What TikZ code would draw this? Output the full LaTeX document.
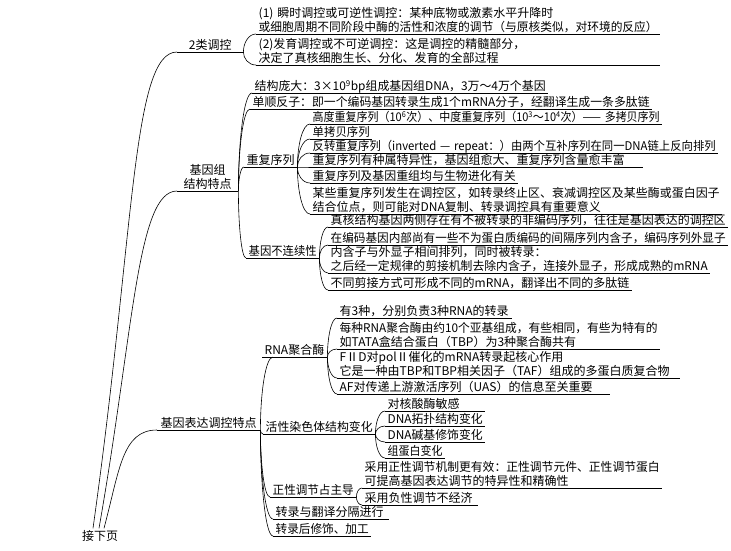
\documentclass[tikz,border=0pt]{standalone}
\usepackage{fontspec}
\usepackage{graphicx}
\setmainfont{Noto Sans CJK SC}
\usetikzlibrary{calc}
\newsavebox\fitbox
\newcommand\fl[1]{\sbox\fitbox{#1}\ht\fitbox=9.5pt\dp\fitbox=1.5pt\relax
  \ifdim\wd\fitbox>\hsize\relax\resizebox{\hsize}{\height}{\usebox\fitbox}\else\usebox\fitbox\fi}
\tikzset{
  every node/.style={font=\fontsize{12pt}{14pt}\selectfont, text=black},
  ln/.style={line width=0.6pt, draw=black},
  topic/.style={anchor=south west, inner xsep=2.5pt, inner ysep=0.8pt, text width=#1, align=left,
    append after command={(\tikzlastnode.south west) edge[ln] (\tikzlastnode.south east)}},
  ctopic/.style={topic=#1, align=center},
  rootnode/.style={inner sep=2pt},
  br/.style={ln, to path={.. controls ($(\tikztostart)!0.5!(\tikztostart|-\tikztotarget)$) and ($(\tikztotarget)!0.6!(\tikztostart|-\tikztotarget)$) .. (\tikztotarget)}},
}
\begin{document}
\begin{tikzpicture}[x=1pt,y=-1pt]
\useasboundingbox (0,0) rectangle (731,550);
\node[rootnode] (root) at (100,536) {接下页};
% level 1
\node[ctopic=61] (a) at (177,52) {\fl{2类调控}};
\node[ctopic=56] (b) at (177,191) {\fl{基因组}\\\fl{结构特点}};
\node[ctopic=98] (c) at (157,430) {\fl{基因表达调控特点}};
% 2类调控
\node[topic=399] (a1) at (256,34) {\fl{(1) 瞬时调控或可逆性调控：某种底物或激素水平升降时}\\\fl{或细胞周期不同阶段中酶的活性和浓度的调节（与原核类似，对环境的反应）}};
\node[topic=399] (a2) at (256,65) {\fl{(2)发育调控或不可逆调控：这是调控的精髓部分，}\\\fl{决定了真核细胞生长、分化、发育的全部过程}};
% 基因组结构特点
\node[topic=291] (b1) at (252,93) {\fl{结构庞大：3×10\textsuperscript{9}bp组成基因组DNA，3万～4万个基因}};
\node[topic=397] (b2) at (250,109) {\fl{单顺反子：即一个编码基因转录生成1个mRNA分子，经翻译生成一条多肽链}};
\node[topic=48] (b3) at (244,167) {\fl{重复序列}};
\node[topic=68] (b4) at (246,258) {\fl{基因不连续性}};
% 重复序列
\node[topic=347] (b31) at (310,124) {\fl{高度重复序列（10\textsuperscript{6}次）、中度重复序列（10\textsuperscript{3}～10\textsuperscript{4}次）—— 多拷贝序列}};
\node[topic=57] (b32) at (310,139) {\fl{单拷贝序列}};
\node[topic=403] (b33) at (310,153) {\fl{反转重复序列（inverted — repeat：）由两个互补序列在同一DNA链上反向排列}};
\node[topic=328] (b34) at (310,167) {\fl{重复序列有种属特异性，基因组愈大、重复序列含量愈丰富}};
\node[topic=203] (b35) at (310,183) {\fl{重复序列及基因重组均与生物进化有关}};
\node[topic=407] (b36) at (310,214) {\fl{某些重复序列发生在调控区，如转录终止区、衰减调控区及某些酶或蛋白因子}\\\fl{结合位点，则可能对DNA复制、转录调控具有重要意义}};
% 基因不连续性
\node[topic=395] (b41) at (328,227) {\fl{真核结构基因两侧存在有不被转录的非编码序列，往往是基因表达的调控区}};
\node[topic=395] (b42) at (328,245) {\fl{在编码基因内部尚有一些不为蛋白质编码的间隔序列内含子，编码序列外显子}};
\node[topic=377] (b43) at (328,273) {\fl{内含子与外显子相间排列，同时被转录：}\\\fl{之后经一定规律的剪接机制去除内含子，连接外显子，形成成熟的mRNA}};
\node[topic=299] (b44) at (328,290) {\fl{不同剪接方式可形成不同的mRNA，翻译出不同的多肽链}};
% 基因表达调控特点
\node[topic=60] (c1) at (262,357) {\fl{RNA聚合酶}};
\node[topic=107] (c2) at (263,434) {\fl{活性染色体结构变化}};
\node[topic=81] (c3) at (270,497) {\fl{正性调节占主导}};
\node[topic=111] (c4) at (273,519) {\fl{转录与翻译分隔进行}};
\node[topic=93] (c5) at (273,536) {\fl{转录后修饰、加工}};
\coordinate (c1in) at ([xshift=11pt]c1.south west);
% RNA聚合酶
\node[topic=170] (c11) at (337,318) {\fl{有3种，分别负责3种RNA的转录}};
\node[topic=318] (c12) at (337,349) {\fl{每种RNA聚合酶由约10个亚基组成，有些相同，有些为特有的}\\\fl{如TATA盒结合蛋白（TBP）为3种聚合酶共有}};
\node[topic=338] (c13) at (337,378) {\fl{FⅡD对polⅡ催化的mRNA转录起核心作用}\\\fl{它是一种由TBP和TBP相关因子（TAF）组成的多蛋白质复合物}};
\node[topic=268] (c14) at (337,394) {\fl{AF对传递上游激活序列（UAS）的信息至关重要}};
% 活性染色体结构变化
\node[topic=95] (c21) at (385,411) {\fl{对核酸酶敏感}};
\node[topic=95] (c22) at (385,426) {\fl{DNA拓扑结构变化}};
\node[topic=95] (c23) at (385,442) {\fl{DNA碱基修饰变化}};
\node[topic=55] (c24) at (385,458) {\fl{组蛋白变化}};
% 正性调节占主导
\node[topic=295] (c31) at (362,488) {\fl{采用正性调节机制更有效：正性调节元件、正性调节蛋白}\\\fl{可提高基因表达调节的特异性和精确性}};
\node[topic=111] (c32) at (362,505) {\fl{采用负性调节不经济}};
% root connectors
\draw[ln] ([xshift=-7pt]root.north) to[out=82,in=180,out distance=300,in distance=45] (a.south west);
\draw[ln] ([xshift=-1pt]root.north) to[out=80,in=180,out distance=200,in distance=40] (b.south west);
\draw[ln] ([xshift=4pt]root.north) to[out=75,in=180,out distance=60,in distance=35] (c.south west);
% brackets
\draw[br] (a.south east) to (a1.south west);
\draw[br] (a.south east) to (a2.south west);
\foreach \k in {b1,b2,b3,b4} \draw[br] (b.south east) to (\k.south west);
\foreach \k in {b31,b32,b33,b34,b35,b36} \draw[br] (b3.south east) to (\k.south west);
\foreach \k in {b41,b42,b43,b44} \draw[br] (b4.south east) to (\k.south west);
\draw[br] (c.south east) to (c1in);
\foreach \k in {c2,c3,c4,c5} \draw[br] (c.south east) to (\k.south west);
\foreach \k in {c11,c12,c13,c14} \draw[br] (c1.south east) to (\k.south west);
\foreach \k in {c21,c22,c23,c24} \draw[br] (c2.south east) to (\k.south west);
\foreach \k in {c31,c32} \draw[br] (c3.south east) to (\k.south west);
\end{tikzpicture}
\end{document}
